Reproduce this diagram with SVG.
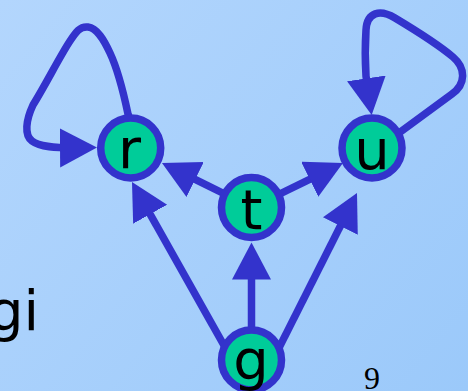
<svg xmlns="http://www.w3.org/2000/svg" width="468" height="391" viewBox="0 0 468 391">
  <defs>
    <linearGradient id="bg" x1="0" y1="0" x2="468" y2="391" gradientUnits="userSpaceOnUse">
      <stop offset="0" stop-color="#b3d6fd"/>
      <stop offset="1" stop-color="#9bc9fa"/>
    </linearGradient>
    <marker id="ah" markerUnits="userSpaceOnUse" viewBox="0 0 40 40" markerWidth="40" markerHeight="40" refX="17" refY="19.5" orient="auto">
      <path d="M0,0 L37,19.5 L0,39 Z" fill="#3333cc"/>
    </marker>
    <style>
      .edge { fill: none; stroke: #3333cc; stroke-width: 7.5; marker-end: url(#ah); }
      .node circle { fill: #00cc99; stroke: #3333cc; stroke-width: 7.5; }
      .node text { font-family: "DejaVu Sans", Verdana, sans-serif; font-size: 56px; fill: #000; text-anchor: middle; }
      .label { font-family: "DejaVu Sans", Verdana, sans-serif; font-size: 56px; fill: #000; }
      .page { font-family: "Liberation Serif", "Times New Roman", serif; font-size: 32px; fill: #000; text-anchor: middle; }
    </style>
  </defs>

  <rect width="468" height="391" fill="url(#bg)"/>

  <text class="label" x="39" y="330" text-anchor="end">gi</text>
  <text class="page" x="372" y="389">9</text>

  <g id="connectors">
    <!-- r self loop -->
    <path class="edge" d="M131,125 L128,114 C124,95 118,70 110,53 C104,40 97,28 88,27 C80,26 76,32 70,41 C60,56 46,84 33,105 C26,120 24,135 32,141 C40,147 55,148 77,147.8"/>
    <!-- u self loop -->
    <path class="edge" d="M388,141 L452,94 C466,84 466,68 453,57 C440,46 415,30 395,18 C380,9 367,12 366,30 C365,45 365,60 366,76 L368.8,95.2"/>
    <!-- t to r -->
    <path class="edge" d="M252,207.5 L179.9,171.9"/>
    <!-- t to u -->
    <path class="edge" d="M252,207.5 L325,171.8"/>
    <!-- g to t -->
    <path class="edge" d="M251.5,335 L251.5,262.5"/>
    <!-- g to r -->
    <path class="edge" d="M226,349 L141.8,199.4"/>
    <!-- g to u -->
    <path class="edge" d="M278.4,349.1 L348,210.9"/>
  </g>

  <g id="node-r" class="node">
    <circle cx="130.7" cy="148" r="30"/>
    <text x="129.5" y="168">r</text>
  </g>
  <g id="node-u" class="node">
    <circle cx="372" cy="148" r="30"/>
    <text x="372" y="169">u</text>
  </g>
  <g id="node-t" class="node">
    <circle cx="251.5" cy="207.5" r="30"/>
    <text x="251.5" y="229">t</text>
  </g>
  <g id="node-g" class="node">
    <circle cx="251.5" cy="360" r="30"/>
    <text x="251" y="379">g</text>
  </g>
</svg>
